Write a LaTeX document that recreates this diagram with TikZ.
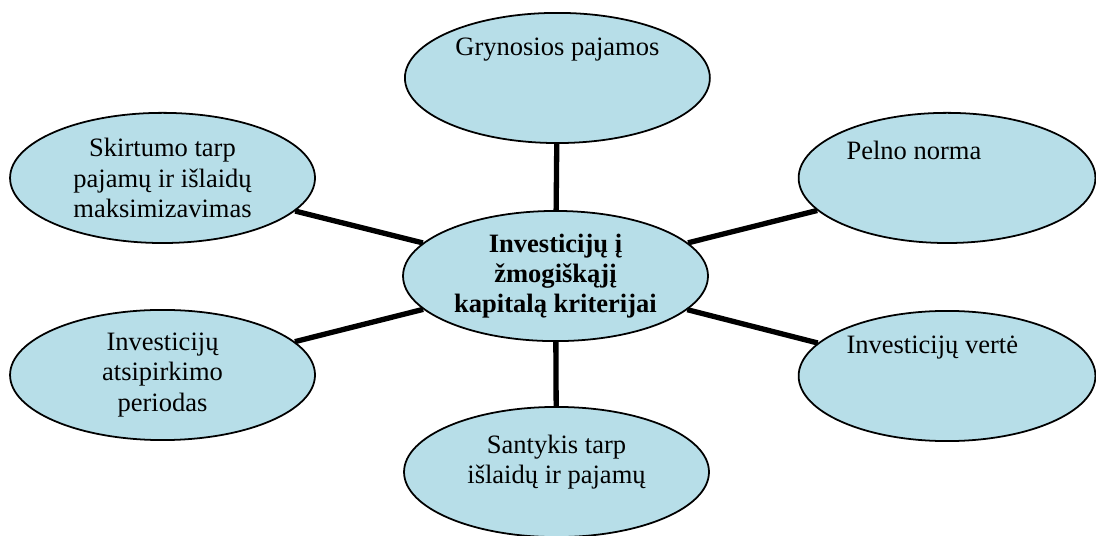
\documentclass[tikz,border=0pt]{standalone}
\usepackage{fontspec}
\setmainfont{Liberation Serif}
\usetikzlibrary{shapes.geometric}
\definecolor{critblue}{RGB}{183,222,232}
\tikzset{
	crit/.style={draw, ellipse, fill=critblue, line width=0.8pt, minimum width=4.85cm, minimum height=2.07cm, inner sep=0pt, align=center},
	txt/.style={inner sep=0pt, align=center},
	link/.style={line width=2.4pt}
}

\begin{document}
\begin{tikzpicture}[font=\fontsize{12pt}{13.6pt}\selectfont]
				\useasboundingbox (-8.835,-4.119) rectangle (8.596,4.390);
				\node[crit, font=\fontsize{12pt}{13.6pt}\selectfont\bfseries] (kriter)at(0, 0) {Investicijų į\\žmogiškąjį\\kapitalą kriterijai};
				\node[crit] (gryn)at(0.03, 3.15) {};
				\node[crit] (skirt)at(-6.25, 1.56) {Skirtumo tarp\\pajamų ir išlaidų\\maksimizavimas};
				\node[crit, minimum width=4.72cm] (pelno)at(6.227, 1.56) {};
				\node[crit] (atsip)at(-6.25, -1.574) {Investicijų\\atsipirkimo\\periodas};
				\node[crit, minimum width=4.72cm] (verte)at(6.227, -1.59) {};
				\node[crit] (santyk)at(0.016, -3.117) {};
				% texts placed high in the ellipses
				\node[txt] (grynT)at([yshift=0.445cm]gryn.center) {Grynosios pajamos};
				\node[txt, anchor=west] (pelnoT)at([xshift=-1.606cm, yshift=0.445cm]pelno.center) {Pelno norma};
				\node[txt, anchor=west] (verteT)at([xshift=-1.606cm, yshift=0.46cm]verte.center) {Investicijų vertė};
				\node[txt] (santykT)at([yshift=0.16cm]santyk.center) {Santykis tarp\\išlaidų ir pajamų};
				\draw[link] (kriter) -- (gryn);
				\draw[link] (kriter) -- (skirt);
				\draw[link] (kriter) -- (pelno);
				\draw[link] (kriter) -- (atsip);
				\draw[link] (kriter) -- (verte);
				\draw[link] (kriter) -- (santyk);
			\end{tikzpicture}
\end{document}
